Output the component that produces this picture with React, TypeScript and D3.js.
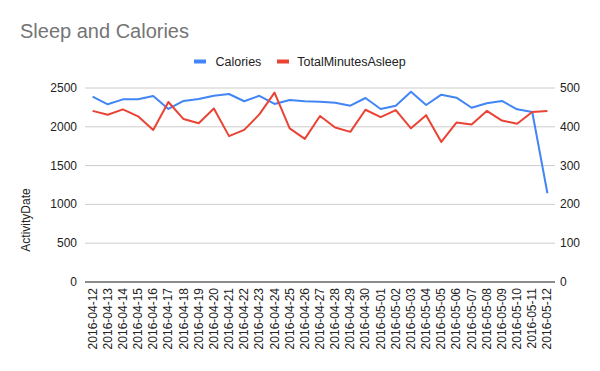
import React from 'react';
import * as d3 from 'd3';

const dates = [
  '2016-04-12','2016-04-13','2016-04-14','2016-04-15','2016-04-16','2016-04-17','2016-04-18',
  '2016-04-19','2016-04-20','2016-04-21','2016-04-22','2016-04-23','2016-04-24','2016-04-25',
  '2016-04-26','2016-04-27','2016-04-28','2016-04-29','2016-04-30','2016-05-01','2016-05-02',
  '2016-05-03','2016-05-04','2016-05-05','2016-05-06','2016-05-07','2016-05-08','2016-05-09',
  '2016-05-10','2016-05-11','2016-05-12'
];
const calories = [
  2388, 2290, 2354, 2354, 2397, 2230, 2333, 2358, 2401, 2423, 2329, 2400, 2294, 2345,
  2329, 2324, 2311, 2272, 2371, 2230, 2272, 2453, 2281, 2414, 2375, 2246, 2303, 2333,
  2225, 2191, 1143
];
const minutesAsleep = [
  441, 431, 445, 427, 392, 464, 420, 409, 447, 376, 392, 432, 488, 396,
  369, 428, 398, 387, 444, 425, 443, 396, 430, 361, 411, 406, 441, 416,
  408, 438, 441
];
const leftTicks = [0, 500, 1000, 1500, 2000, 2500];
const rightTicks = [0, 100, 200, 300, 400, 500];

const W = 600, H = 371;
const m = { left: 85, right: 45, top: 88, bottom: 89 };
const font = '"Liberation Sans", Arial, sans-serif';

export default function App() {
  const x = d3.scaleBand<string>().domain(dates).range([m.left, W - m.right]);
  const yL = d3.scaleLinear().domain([0, 2500]).range([H - m.bottom, m.top]);
  const yR = d3.scaleLinear().domain([0, 500]).range([H - m.bottom, m.top]);
  const cx = (d: string) => (x(d) as number) + x.bandwidth() / 2;

  const calLine = d3.line<number>().x((_, i) => cx(dates[i])).y(v => yL(v))(calories) as string;
  const sleepLine = d3.line<number>().x((_, i) => cx(dates[i])).y(v => yR(v))(minutesAsleep) as string;

  return (
    <svg width={W} height={H} style={{ position: 'absolute', left: 0, top: 0, background: '#fff' }}>
      <text x={20} y={38} fontFamily={font} fontSize={20} fill="#757575">Sleep and Calories</text>

      <g fontFamily={font} fontSize={12.5} fill="#222">
        <rect x={194} y={59.5} width={12} height={4} fill="#4285F4" />
        <text x={215.5} y={65.7}>Calories</text>
        <rect x={277} y={59.5} width={12} height={4} fill="#EA4335" />
        <text x={297.3} y={65.7}>TotalMinutesAsleep</text>
      </g>

      {leftTicks.map(t => (
        <line key={t} x1={m.left} x2={W - m.right} y1={yL(t)} y2={yL(t)} stroke="#ccc" strokeWidth={1} />
      ))}
      <line x1={m.left} x2={W - m.right} y1={yL(0)} y2={yL(0)} stroke="#333" strokeWidth={1} />

      {leftTicks.map(t => (
        <text key={t} x={77} y={yL(t) + 4} textAnchor="end" fontFamily={font} fontSize={12} fill="#222">{t}</text>
      ))}
      {rightTicks.map(t => (
        <text key={t} x={560} y={yR(t) + 4} textAnchor="start" fontFamily={font} fontSize={12} fill="#222">{t}</text>
      ))}

      <text transform={`translate(30,220) rotate(-90)`} textAnchor="middle"
        fontFamily={font} fontSize={12} fill="#222">ActivityDate</text>

      {dates.map(d => (
        <text key={d} transform={`translate(${cx(d) + 4},${H - m.bottom + 6}) rotate(-90)`} textAnchor="end"
          fontFamily={font} fontSize={12} fill="#222">{d}</text>
      ))}

      <path d={calLine} fill="none" stroke="#4285F4" strokeWidth={2} strokeLinejoin="round" />
      <path d={sleepLine} fill="none" stroke="#EA4335" strokeWidth={2} strokeLinejoin="round" />
    </svg>
  );
}
